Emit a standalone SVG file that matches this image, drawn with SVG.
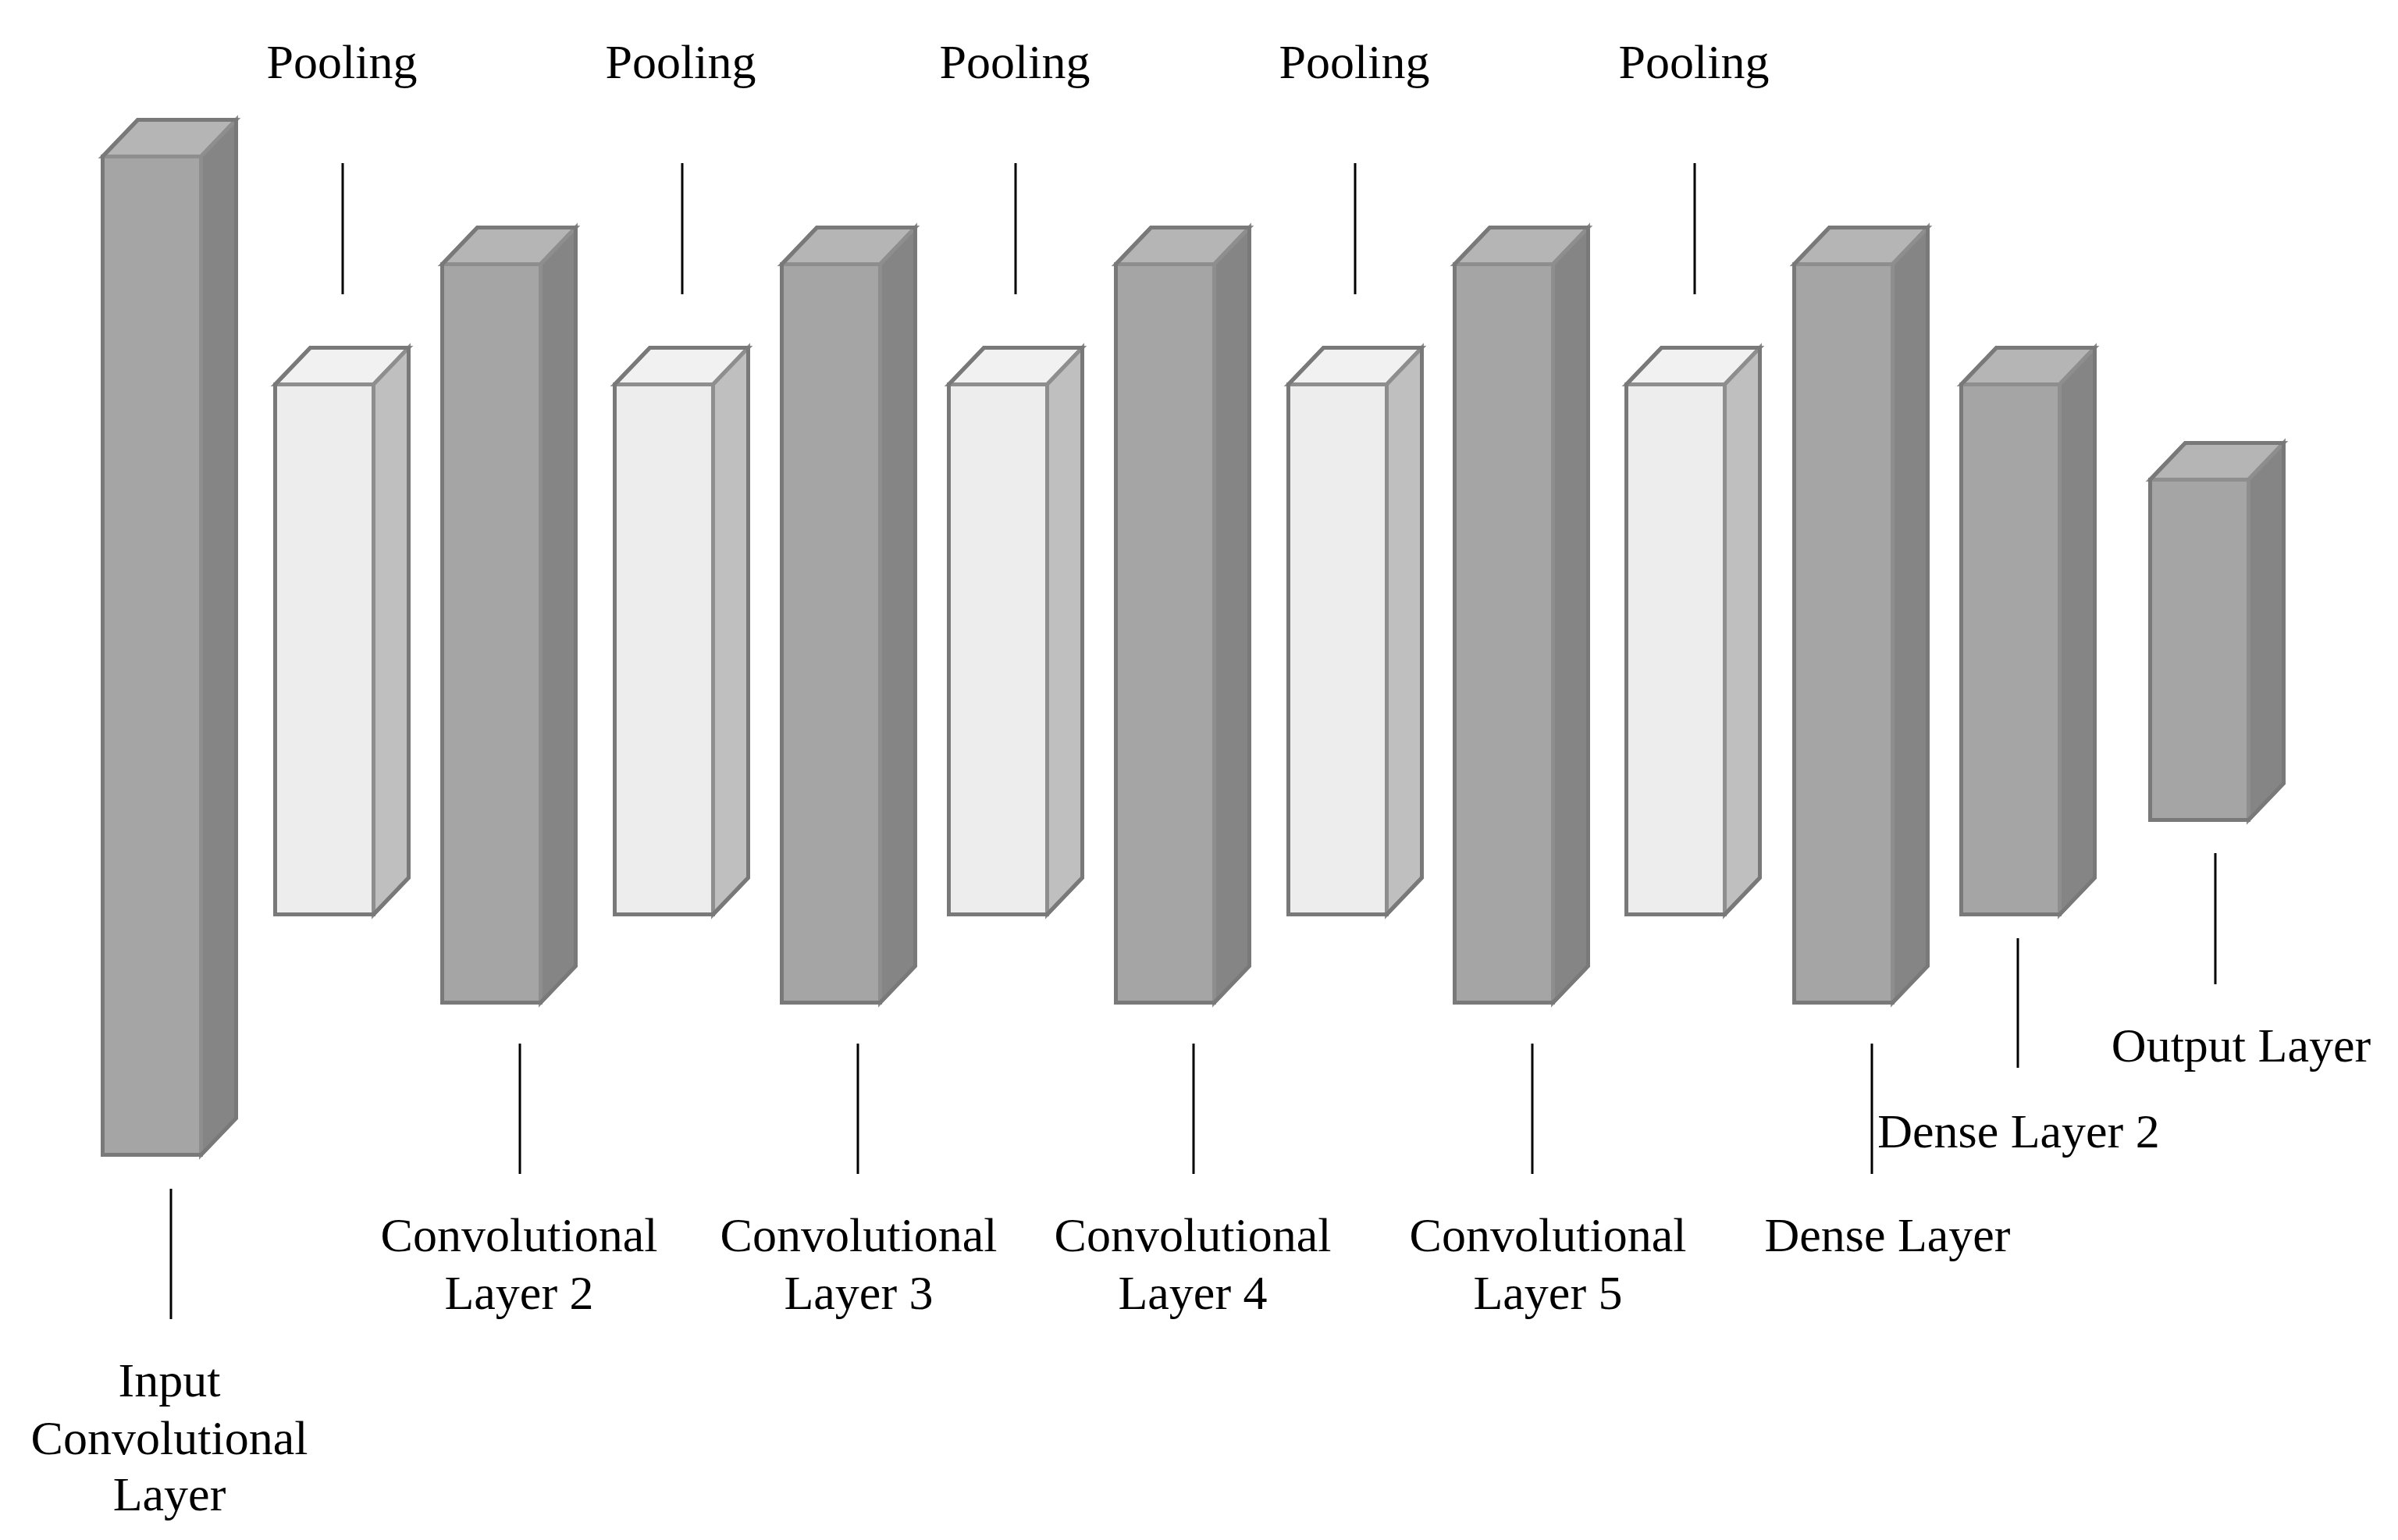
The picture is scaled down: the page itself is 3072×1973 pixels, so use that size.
<svg xmlns="http://www.w3.org/2000/svg" width="3072" height="1973" viewBox="0 0 3072 1973">
<style>
.bg{fill:#ffffff}
.face{stroke:#8e8e8e;stroke-width:5;stroke-linejoin:miter}
.sil{fill:none;stroke:#797979;stroke-width:5;stroke-linejoin:miter}
.g .front{fill:#a5a5a5}.g .top{fill:#b5b5b5}.g .side{fill:#858585}
.p .front{fill:#ededed}.p .top{fill:#f1f1f1}.p .side{fill:#bfbfbf}
.ln{stroke:#000;stroke-width:3;fill:none}
text{font-family:"Liberation Serif","Times New Roman",serif;font-size:62px;fill:#000;text-anchor:middle}
</style>
<rect class="bg" x="0" y="0" width="3072" height="1973"/>
<g id="input-conv" class="g" transform="translate(129,198)">
<path class="face top" d="M2.5,2.5 L47.5,-44.5 L173.5,-44.5 L128.5,2.5 Z"/>
<path class="face side" d="M128.5,2.5 L173.5,-44.5 L173.5,1234.5 L128.5,1281.5 Z"/>
<rect class="face front" x="2.5" y="2.5" width="126" height="1279"/>
<path class="sil" d="M2.5,2.5 L47.5,-44.5 L173.5,-44.5 L173.5,1234.5 L128.5,1281.5 L2.5,1281.5 Z"/>
</g>
<g id="pool1" class="p" transform="translate(350,490)">
<path class="face top" d="M2.5,2.5 L47.5,-44.5 L173.5,-44.5 L128.5,2.5 Z"/>
<path class="face side" d="M128.5,2.5 L173.5,-44.5 L173.5,634.5 L128.5,681.5 Z"/>
<rect class="face front" x="2.5" y="2.5" width="126" height="679"/>
<path class="sil" d="M2.5,2.5 L47.5,-44.5 L173.5,-44.5 L173.5,634.5 L128.5,681.5 L2.5,681.5 Z"/>
</g>
<g id="conv2" class="g" transform="translate(564,336)">
<path class="face top" d="M2.5,2.5 L47.5,-44.5 L173.5,-44.5 L128.5,2.5 Z"/>
<path class="face side" d="M128.5,2.5 L173.5,-44.5 L173.5,901.5 L128.5,948.5 Z"/>
<rect class="face front" x="2.5" y="2.5" width="126" height="946"/>
<path class="sil" d="M2.5,2.5 L47.5,-44.5 L173.5,-44.5 L173.5,901.5 L128.5,948.5 L2.5,948.5 Z"/>
</g>
<g id="pool2" class="p" transform="translate(785,490)">
<path class="face top" d="M2.5,2.5 L47.5,-44.5 L173.5,-44.5 L128.5,2.5 Z"/>
<path class="face side" d="M128.5,2.5 L173.5,-44.5 L173.5,634.5 L128.5,681.5 Z"/>
<rect class="face front" x="2.5" y="2.5" width="126" height="679"/>
<path class="sil" d="M2.5,2.5 L47.5,-44.5 L173.5,-44.5 L173.5,634.5 L128.5,681.5 L2.5,681.5 Z"/>
</g>
<g id="conv3" class="g" transform="translate(999,336)">
<path class="face top" d="M2.5,2.5 L47.5,-44.5 L173.5,-44.5 L128.5,2.5 Z"/>
<path class="face side" d="M128.5,2.5 L173.5,-44.5 L173.5,901.5 L128.5,948.5 Z"/>
<rect class="face front" x="2.5" y="2.5" width="126" height="946"/>
<path class="sil" d="M2.5,2.5 L47.5,-44.5 L173.5,-44.5 L173.5,901.5 L128.5,948.5 L2.5,948.5 Z"/>
</g>
<g id="pool3" class="p" transform="translate(1213,490)">
<path class="face top" d="M2.5,2.5 L47.5,-44.5 L173.5,-44.5 L128.5,2.5 Z"/>
<path class="face side" d="M128.5,2.5 L173.5,-44.5 L173.5,634.5 L128.5,681.5 Z"/>
<rect class="face front" x="2.5" y="2.5" width="126" height="679"/>
<path class="sil" d="M2.5,2.5 L47.5,-44.5 L173.5,-44.5 L173.5,634.5 L128.5,681.5 L2.5,681.5 Z"/>
</g>
<g id="conv4" class="g" transform="translate(1427,336)">
<path class="face top" d="M2.5,2.5 L47.5,-44.5 L173.5,-44.5 L128.5,2.5 Z"/>
<path class="face side" d="M128.5,2.5 L173.5,-44.5 L173.5,901.5 L128.5,948.5 Z"/>
<rect class="face front" x="2.5" y="2.5" width="126" height="946"/>
<path class="sil" d="M2.5,2.5 L47.5,-44.5 L173.5,-44.5 L173.5,901.5 L128.5,948.5 L2.5,948.5 Z"/>
</g>
<g id="pool4" class="p" transform="translate(1648,490)">
<path class="face top" d="M2.5,2.5 L47.5,-44.5 L173.5,-44.5 L128.5,2.5 Z"/>
<path class="face side" d="M128.5,2.5 L173.5,-44.5 L173.5,634.5 L128.5,681.5 Z"/>
<rect class="face front" x="2.5" y="2.5" width="126" height="679"/>
<path class="sil" d="M2.5,2.5 L47.5,-44.5 L173.5,-44.5 L173.5,634.5 L128.5,681.5 L2.5,681.5 Z"/>
</g>
<g id="conv5" class="g" transform="translate(1861,336)">
<path class="face top" d="M2.5,2.5 L47.5,-44.5 L173.5,-44.5 L128.5,2.5 Z"/>
<path class="face side" d="M128.5,2.5 L173.5,-44.5 L173.5,901.5 L128.5,948.5 Z"/>
<rect class="face front" x="2.5" y="2.5" width="126" height="946"/>
<path class="sil" d="M2.5,2.5 L47.5,-44.5 L173.5,-44.5 L173.5,901.5 L128.5,948.5 L2.5,948.5 Z"/>
</g>
<g id="pool5" class="p" transform="translate(2081,490)">
<path class="face top" d="M2.5,2.5 L47.5,-44.5 L173.5,-44.5 L128.5,2.5 Z"/>
<path class="face side" d="M128.5,2.5 L173.5,-44.5 L173.5,634.5 L128.5,681.5 Z"/>
<rect class="face front" x="2.5" y="2.5" width="126" height="679"/>
<path class="sil" d="M2.5,2.5 L47.5,-44.5 L173.5,-44.5 L173.5,634.5 L128.5,681.5 L2.5,681.5 Z"/>
</g>
<g id="dense" class="g" transform="translate(2296,336)">
<path class="face top" d="M2.5,2.5 L47.5,-44.5 L173.5,-44.5 L128.5,2.5 Z"/>
<path class="face side" d="M128.5,2.5 L173.5,-44.5 L173.5,901.5 L128.5,948.5 Z"/>
<rect class="face front" x="2.5" y="2.5" width="126" height="946"/>
<path class="sil" d="M2.5,2.5 L47.5,-44.5 L173.5,-44.5 L173.5,901.5 L128.5,948.5 L2.5,948.5 Z"/>
</g>
<g id="dense2" class="g" transform="translate(2510,490)">
<path class="face top" d="M2.5,2.5 L47.5,-44.5 L173.5,-44.5 L128.5,2.5 Z"/>
<path class="face side" d="M128.5,2.5 L173.5,-44.5 L173.5,634.5 L128.5,681.5 Z"/>
<rect class="face front" x="2.5" y="2.5" width="126" height="679"/>
<path class="sil" d="M2.5,2.5 L47.5,-44.5 L173.5,-44.5 L173.5,634.5 L128.5,681.5 L2.5,681.5 Z"/>
</g>
<g id="output" class="g" transform="translate(2752,612)">
<path class="face top" d="M2.5,2.5 L47.5,-44.5 L173.5,-44.5 L128.5,2.5 Z"/>
<path class="face side" d="M128.5,2.5 L173.5,-44.5 L173.5,391.5 L128.5,438.5 Z"/>
<rect class="face front" x="2.5" y="2.5" width="126" height="436"/>
<path class="sil" d="M2.5,2.5 L47.5,-44.5 L173.5,-44.5 L173.5,391.5 L128.5,438.5 L2.5,438.5 Z"/>
</g>
<g id="connectors">
<line class="ln" x1="439" y1="209" x2="439" y2="377"/>
<line class="ln" x1="874" y1="209" x2="874" y2="377"/>
<line class="ln" x1="1301" y1="209" x2="1301" y2="377"/>
<line class="ln" x1="1736" y1="209" x2="1736" y2="377"/>
<line class="ln" x1="2171" y1="209" x2="2171" y2="377"/>
<line class="ln" x1="219" y1="1523" x2="219" y2="1690"/>
<line class="ln" x1="666" y1="1337" x2="666" y2="1504"/>
<line class="ln" x1="1099" y1="1337" x2="1099" y2="1504"/>
<line class="ln" x1="1529" y1="1337" x2="1529" y2="1504"/>
<line class="ln" x1="1963" y1="1337" x2="1963" y2="1504"/>
<line class="ln" x1="2398" y1="1337" x2="2398" y2="1504"/>
<line class="ln" x1="2585" y1="1202" x2="2585" y2="1368"/>
<line class="ln" x1="2838" y1="1093" x2="2838" y2="1261"/>
</g>
<g id="labels">
<text x="438" y="100">Pooling</text>
<text x="872" y="100">Pooling</text>
<text x="1300" y="100">Pooling</text>
<text x="1735" y="100">Pooling</text>
<text x="2170" y="100">Pooling</text>
<text x="217" y="1789">Input</text>
<text x="217" y="1863">Convolutional</text>
<text x="217" y="1935">Layer</text>
<text x="665" y="1603">Convolutional</text>
<text x="665" y="1677">Layer 2</text>
<text x="1100" y="1603">Convolutional</text>
<text x="1100" y="1677">Layer 3</text>
<text x="1528" y="1603">Convolutional</text>
<text x="1528" y="1677">Layer 4</text>
<text x="1983" y="1603">Convolutional</text>
<text x="1983" y="1677">Layer 5</text>
<text x="2418" y="1603">Dense Layer</text>
<text x="2586" y="1470">Dense Layer 2</text>
<text x="2871" y="1360">Output Layer</text>
</g>
</svg>
